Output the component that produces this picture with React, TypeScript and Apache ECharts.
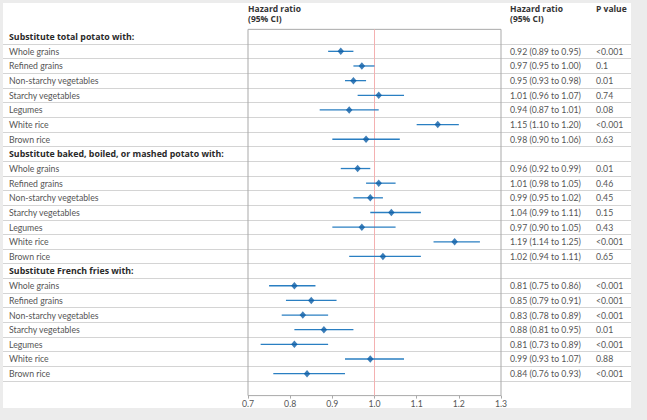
import React, { useEffect, useRef } from "react";
import * as echarts from "echarts";

const groupTitles = [
  "Substitute total potato with:",
  "Substitute baked, boiled, or mashed potato with:",
  "Substitute French fries with:",
];
const foods = [
  "Whole grains",
  "Refined grains",
  "Non-starchy vegetables",
  "Starchy vegetables",
  "Legumes",
  "White rice",
  "Brown rice",
];
const estTotal = [0.92, 0.97, 0.95, 1.01, 0.94, 1.15, 0.98];
const loTotal = [0.89, 0.95, 0.93, 0.96, 0.87, 1.1, 0.9];
const hiTotal = [0.95, 1.0, 0.98, 1.07, 1.01, 1.2, 1.06];
const pTotal = ["<0.001", "0.1", "0.01", "0.74", "0.08", "<0.001", "0.63"];

const estBaked = [0.96, 1.01, 0.99, 1.04, 0.97, 1.19, 1.02];
const loBaked = [0.92, 0.98, 0.95, 0.99, 0.9, 1.14, 0.94];
const hiBaked = [0.99, 1.05, 1.02, 1.11, 1.05, 1.25, 1.11];
const pBaked = ["0.01", "0.46", "0.45", "0.15", "0.43", "<0.001", "0.65"];

const estFries = [0.81, 0.85, 0.83, 0.88, 0.81, 0.99, 0.84];
const loFries = [0.75, 0.79, 0.78, 0.81, 0.73, 0.93, 0.76];
const hiFries = [0.86, 0.91, 0.89, 0.95, 0.89, 1.07, 0.93];
const pFries = ["<0.001", "<0.001", "<0.001", "0.01", "<0.001", "0.88", "<0.001"];

const xTicks = [0.7, 0.8, 0.9, 1.0, 1.1, 1.2, 1.3];

type Row = { label: string; header: boolean; est?: number; lo?: number; hi?: number; p?: string };

function buildRows(): Row[] {
  const groups = [
    [estTotal, loTotal, hiTotal, pTotal],
    [estBaked, loBaked, hiBaked, pBaked],
    [estFries, loFries, hiFries, pFries],
  ] as const;
  const rows: Row[] = [];
  groups.forEach((g, gi) => {
    rows.push({ label: groupTitles[gi], header: true });
    foods.forEach((f, i) => {
      rows.push({
        label: f,
        header: false,
        est: (g[0] as number[])[i],
        lo: (g[1] as number[])[i],
        hi: (g[2] as number[])[i],
        p: (g[3] as string[])[i],
      });
    });
  });
  rows.push({ label: "", header: false });
  return rows;
}

const FONT = "Lato";
const BOLD_FONT = "Open Sans";
const FS = 8.7;

export default function App() {
  const ref = useRef<HTMLDivElement>(null);
  useEffect(() => {
    if (!ref.current) return;
    const chart = echarts.init(ref.current, undefined, { renderer: "svg" });
    const rows = buildRows();
    const ids = rows.map((_, i) => "r" + i);
    const fmt = (v: number) => v.toFixed(2);
    const dataRows = rows
      .map((r, i) => ({ r, i }))
      .filter((o) => !o.r.header && o.r.est !== undefined);
    const ciData = dataRows.map((o) => [o.r.lo, o.r.hi, o.i]);
    const ptData = dataRows.map((o) => [o.r.est, o.i]);
    const nData = rows.length - 1;

    const headStyle = {
      fontFamily: BOLD_FONT,
      fontSize: 8.5,
      fontWeight: "bold",
      lineHeight: 9.5,
      fill: "#333",
    };

    chart.setOption({
      animation: false,
      backgroundColor: "#ececec",
      textStyle: { fontFamily: FONT },
      graphic: [
        {
          type: "rect",
          z: -10,
          shape: { x: 3, y: 3, width: 628, height: 405 },
          style: { fill: "#ffffff" },
          silent: true,
        },
        { type: "text", x: 248, y: 4, style: { ...headStyle, text: "Hazard ratio\n(95% CI)" } },
        { type: "text", x: 510, y: 4, style: { ...headStyle, text: "Hazard ratio\n(95% CI)" } },
        { type: "text", x: 596, y: 4, style: { ...headStyle, text: "P value" } },
      ],
      grid: [
        { left: 3, right: 16, top: 44, height: 336.9 },
        {
          left: 248,
          width: 253,
          top: 29.35,
          height: 366.25,
          show: true,
          borderColor: "#a9a9a9",
          borderWidth: 1,
          backgroundColor: "transparent",
          z: 3,
        },
      ],
      xAxis: [
        { gridIndex: 0, type: "value", show: false, min: 0, max: 1, splitLine: { show: false } },
        {
          gridIndex: 1,
          type: "value",
          min: xTicks[0],
          max: xTicks[xTicks.length - 1],
          interval: 0.1,
          splitLine: { show: false },
          axisLine: { lineStyle: { color: "#a9a9a9" } },
          axisTick: { show: true, length: 3, lineStyle: { color: "#a9a9a9" } },
          axisLabel: {
            fontSize: FS,
            color: "#555",
            margin: 3,
            formatter: (v: number) => v.toFixed(1),
          },
        },
      ],
      yAxis: [
        {
          gridIndex: 0,
          type: "value",
          min: 0,
          max: nData - 1,
          interval: 1,
          axisLine: { show: false },
          axisTick: { show: false },
          axisLabel: { show: false },
          splitLine: { show: true, lineStyle: { color: "#d4d4d4", width: 1 } },
        },
        {
          gridIndex: 1,
          type: "category",
          inverse: true,
          data: ids,
          axisLine: { show: false },
          axisTick: { show: false },
          splitLine: { show: false },
          axisLabel: {
            interval: 0,
            align: "left",
            margin: 239,
            formatter: (_v: string, i: number) =>
              rows[i].label === "" ? "" : rows[i].header ? `{h|${rows[i].label}}` : `{n|${rows[i].label}}`,
            rich: {
              h: { fontFamily: BOLD_FONT, fontSize: 8.8, fontWeight: "bold", color: "#2a2a2a" },
              n: { fontFamily: FONT, fontSize: FS, color: "#555" },
            },
          },
        },
        {
          gridIndex: 1,
          type: "category",
          position: "right",
          inverse: true,
          data: ids,
          axisLine: { show: false },
          axisTick: { show: false },
          splitLine: { show: false },
          axisLabel: {
            interval: 0,
            align: "left",
            margin: 9,
            formatter: (_v: string, i: number) => {
              const r = rows[i];
              if (r.header || r.est === undefined) return "";
              return `{a|${fmt(r.est)} (${fmt(r.lo!)} to ${fmt(r.hi!)})}{b|${r.p}}`;
            },
            rich: {
              a: { fontFamily: FONT, fontSize: FS, color: "#555", width: 86 },
              b: { fontFamily: FONT, fontSize: FS, color: "#555" },
            },
          },
        },
      ],
      series: [
        {
          type: "custom",
          xAxisIndex: 1,
          yAxisIndex: 1,
          z: 4,
          encode: { x: [0, 1], y: 2 },
          data: ciData,
          renderItem: (_params: any, api: any) => {
            const a = api.coord([api.value(0), api.value(2)]);
            const b = api.coord([api.value(1), api.value(2)]);
            return {
              type: "line",
              shape: { x1: a[0], y1: a[1], x2: b[0], y2: b[1] },
              style: { stroke: "#2a7fc2", lineWidth: 1.3 },
            };
          },
        },
        {
          type: "scatter",
          xAxisIndex: 1,
          yAxisIndex: 1,
          z: 5,
          symbol: "diamond",
          symbolSize: [6.5, 7.5],
          itemStyle: { color: "#0c5ea6" },
          data: ptData,
          markLine: {
            silent: true,
            symbol: "none",
            z: 3,
            label: { show: false },
            lineStyle: { color: "#f4b1b1", type: "solid", width: 1 },
            data: [{ xAxis: 1.0 }],
          },
        },
      ],
    });
    return () => chart.dispose();
  }, []);
  return (
    <div
      ref={ref}
      style={{ position: "fixed", left: 0, top: 0, width: 647, height: 420 }}
    />
  );
}
